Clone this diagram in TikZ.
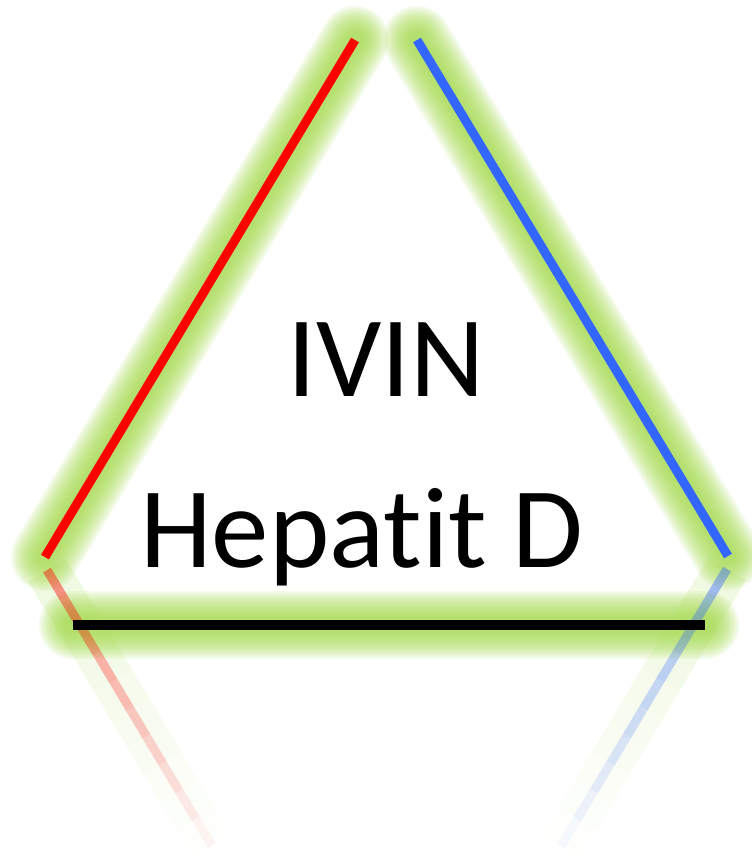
\documentclass[tikz,border=0pt]{standalone}
\usepackage{fontspec}
\setmainfont{Carlito}[Ligatures={NoCommon,NoContextual}]
\usetikzlibrary{calc}
\definecolor{glowgreen}{RGB}{160,215,70}
\definecolor{ivinred}{RGB}{255,0,0}
\definecolor{ivinblue}{RGB}{51,102,255}

\begin{document}
\begin{tikzpicture}[x=1pt,y=-1pt,
	glow/.style={draw=glowgreen,line width=#1,opacity=0.1,line cap=round},
	side/.style={line width=9pt},
	label/.style={anchor=base,inner sep=0pt,font=\fontsize{115}{115}\selectfont}]
	\useasboundingbox (0,0) rectangle (752,852);
	% corners of the triangle
	\coordinate (RB) at (45,557);
	\coordinate (RT) at (355,40);
	\coordinate (BT) at (417,40);
	\coordinate (BB) at (728,556);
	\coordinate (KL) at (73,625);
	\coordinate (KR) at (705,625);
	% mirrored sides
	\coordinate (RM1) at (47,570);
	\coordinate (RM2) at (212,846);
	\coordinate (BM1) at (727,569);
	\coordinate (BM2) at (561,846);
	% glow
	\foreach \w in {68,64,...,16} {
		\draw[glow=\w pt] (RB) -- (RT);
		\draw[glow=\w pt] (BT) -- (BB);
		\draw[glow=\w pt] (KL) -- (KR);
	}
	% reflection, fading out
	\foreach \i [evaluate=\i as \op using 0.42-0.042*\i,
		evaluate=\i as \gop using 0.16-0.016*\i] in {0,...,9} {
		\draw[draw=glowgreen,line width=44pt,opacity=\gop]
			($(RM1)!\i/10!(RM2)$) -- ($(RM1)!\i/10+0.1!(RM2)$);
		\draw[draw=glowgreen,line width=44pt,opacity=\gop]
			($(BM1)!\i/10!(BM2)$) -- ($(BM1)!\i/10+0.1!(BM2)$);
		\draw[side,ivinred,opacity=\op]
			($(RM1)!\i/10!(RM2)$) -- ($(RM1)!\i/10+0.1!(RM2)$);
		\draw[side,ivinblue,opacity=\op]
			($(BM1)!\i/10!(BM2)$) -- ($(BM1)!\i/10+0.1!(BM2)$);
	}
	% sides
	\draw[side,ivinred] (RB) -- (RT);
	\draw[side,ivinblue] (BT) -- (BB);
	\draw[line width=10pt,black] (KL) -- (KR);
	% text
	\node[label] (ivin) at (386,396) {IVIN};
	\node[label] (hep) at (362,567) {Hepatit D};
\end{tikzpicture}
\end{document}
